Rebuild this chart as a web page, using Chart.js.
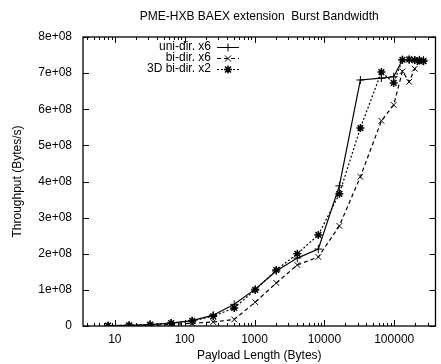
<!DOCTYPE html>
<html>
<head>
<meta charset="utf-8">
<script src="https://cdn.jsdelivr.net/npm/chart.js@4/dist/chart.umd.min.js"></script>
<style>
body{margin:0;background:#fff;}
#graph{display:block;}
</style>
</head>
<body>
<canvas id="graph" width="441" height="364"></canvas>
<script>

// payload sizes in bytes
const payload=[8,16,32,64,128,256,512,1024,2048,4096,8192,16384,32768,65536,98304,131072,163840,196608,229376,262144];

// throughput in bytes/s
const uniX6=[1e6,2e6,4e6,8e6,15e6,30e6,60e6,102e6,152e6,188e6,213e6,388e6,681e6,686e6,690e6,737e6,737e6,736e6,737e6,736e6];
const biX6=[0,1e6,2e6,4e6,8e6,11e6,18e6,66e6,119e6,169e6,191e6,277e6,413e6,568e6,612e6,705e6,676e6,712e6,732e6,735e6];
const bi3dX2=[1e6,2e6,4e6,8e6,14e6,27e6,50e6,100e6,155e6,200e6,252e6,366e6,548e6,703e6,673e6,737e6,738e6,736e6,735e6,733e6];

const seriesNames=["uni-dir. x6","bi-dir. x6","3D bi-dir. x2"];
const xTicks=[10,100,1000,10000,100000];
const yTickStep=1e8;

const font="'Liberation Sans', Arial, sans-serif";

function yLabel(v){
if(v===0) return "0";
return (v/1e8)+"e+08";
}

function marker(ctx,style,x,y,r){
ctx.beginPath();
if(style==='cross'||style==='star'){
ctx.moveTo(x-r,y);ctx.lineTo(x+r,y);
ctx.moveTo(x,y-r);ctx.lineTo(x,y+r);
}
if(style==='crossRot'||style==='star'){
let d=r*0.75;
ctx.moveTo(x-d,y-d);ctx.lineTo(x+d,y+d);
ctx.moveTo(x-d,y+d);ctx.lineTo(x+d,y-d);
}
ctx.stroke();
}

const decor={
id:'decor',
afterDatasetsDraw(c){
const ctx=c.ctx, a=c.chartArea, sx=c.scales.x, sy=c.scales.y;
ctx.save();
ctx.strokeStyle="#000";
ctx.fillStyle="#000";
ctx.lineWidth=1.3;
ctx.setLineDash([]);
ctx.strokeRect(a.left,a.top,a.right-a.left,a.bottom-a.top);

// inward ticks on all four sides
ctx.lineWidth=1;
ctx.beginPath();
for(let e=0;e<7;e++){
for(let m=1;m<10;m++){
let v=m*Math.pow(10,e);
if(v<sx.min||v>sx.max) continue;
let px=Math.round(sx.getPixelForValue(v))+0.5;
let len=m===1?6:3;
ctx.moveTo(px,a.bottom);ctx.lineTo(px,a.bottom-len);
ctx.moveTo(px,a.top);ctx.lineTo(px,a.top+len);
}
}
for(let v=sy.min;v<=sy.max;v+=yTickStep){
let py=Math.round(sy.getPixelForValue(v))+0.5;
ctx.moveTo(a.left,py);ctx.lineTo(a.left+6,py);
ctx.moveTo(a.right,py);ctx.lineTo(a.right-6,py);
}
ctx.stroke();

// title
ctx.font="12px "+font;
ctx.textAlign="center";
ctx.textBaseline="middle";
ctx.fillText("PME-HXB BAEX extension  Burst Bandwidth",(a.left+a.right)/2,17);

// key
ctx.textAlign="right";
c.data.datasets.forEach(function(ds,i){
let ky=47+11*i;
ctx.fillText(ds.label,211,ky);
ctx.lineWidth=1;
ctx.setLineDash(ds.borderDash||[]);
ctx.beginPath();
ctx.moveTo(217,ky+0.5);ctx.lineTo(239,ky+0.5);
ctx.stroke();
ctx.setLineDash([]);
ctx.lineWidth=ds.pointBorderWidth;
marker(ctx,ds.pointStyle,228,ky+0.5,4);
});
ctx.restore();
}
};

function pts(vals){
return payload.map(function(p,i){return {x:p,y:vals[i]};});
}

const ctx=document.getElementById("graph");

new Chart(ctx,{
type:'line',
data:{
datasets:[
{
label:seriesNames[0],
data:pts(uniX6),
borderColor:"#000",
borderWidth:1.2,
pointStyle:'cross',
pointRadius:4,
pointBorderColor:"#000",
pointBorderWidth:1,
fill:false,
tension:0
},
{
label:seriesNames[1],
data:pts(biX6),
borderColor:"#000",
borderWidth:1.2,
borderDash:[4,3],
pointStyle:'crossRot',
pointRadius:4,
pointBorderColor:"#000",
pointBorderWidth:1,
fill:false,
tension:0
},
{
label:seriesNames[2],
data:pts(bi3dX2),
borderColor:"#000",
borderWidth:1.2,
borderDash:[2,2],
pointStyle:'star',
pointRadius:4,
pointBorderColor:"#000",
pointBorderWidth:1.5,
fill:false,
tension:0
}
]
},
options:{
responsive:false,
animation:false,
layout:{padding:{top:37,right:1,left:0,bottom:0}},
plugins:{
legend:{display:false},
title:{display:false},
tooltip:{enabled:false}
},
scales:{
x:{
type:'logarithmic',
min:3.5,
max:390000,
grid:{display:false,drawTicks:false},
border:{display:false},
afterBuildTicks(s){ s.ticks=xTicks.map(function(v){return {value:v};}); },
afterFit(s){ s.height=38; },
ticks:{
color:"#000",
font:{family:font,size:12},
padding:6,
maxRotation:0,
autoSkip:false,
callback:function(v){return String(v);}
},
title:{
display:true,
text:"Payload Length (Bytes)",
color:"#000",
font:{family:font,size:12},
padding:{top:0,bottom:1}
}
},
y:{
min:0,
max:8e8,
grid:{display:false,drawTicks:false},
border:{display:false},
afterFit(s){ s.width=83; },
ticks:{
stepSize:yTickStep,
color:"#000",
font:{family:font,size:12},
padding:11,
callback:function(v){return yLabel(v);}
},
title:{
display:true,
text:"Throughput (Bytes/s)",
color:"#000",
font:{family:font,size:12},
padding:{top:10,bottom:0}
}
}
}
},
plugins:[decor]
});

</script>
</body>
</html>
